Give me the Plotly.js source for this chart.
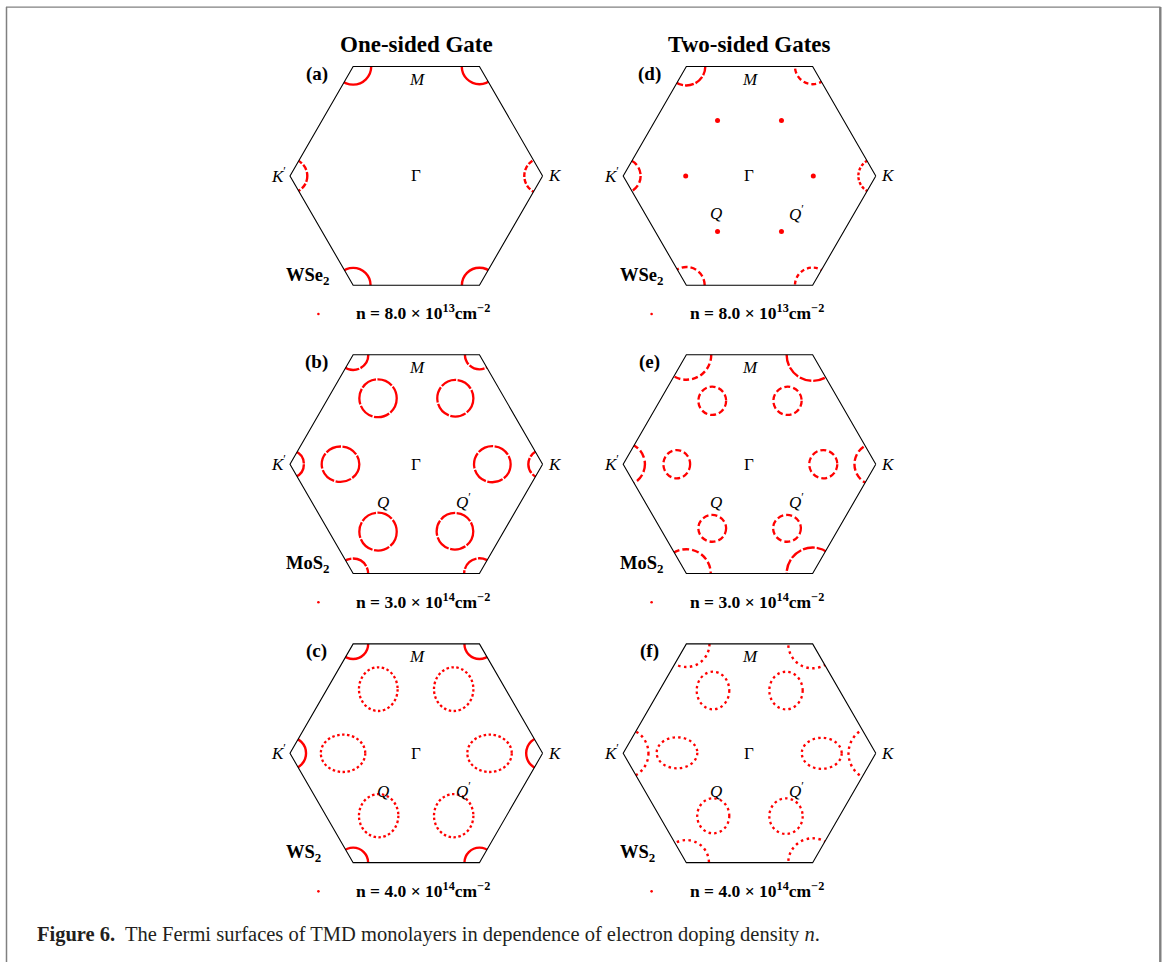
<!DOCTYPE html>
<html>
<head>
<meta charset="utf-8">
<script src="https://cdn.plot.ly/plotly-3.0.1.min.js"></script>
<style>html,body{margin:0;padding:0;background:#fff;}#chart{width:1165px;height:962px;}</style>
</head>
<body>
<div id="chart"></div>
<script>
// ---------------- DATA (Brillouin-zone units, Γ–K distance = 1) ----------------
const panelLetters = ['(a)', '(b)', '(c)', '(d)', '(e)', '(f)'];
const materials = ['WSe<sub>2</sub>', 'MoS<sub>2</sub>', 'WS<sub>2</sub>', 'WSe<sub>2</sub>', 'MoS<sub>2</sub>', 'WS<sub>2</sub>'];
const densityMantissa = ['8.0', '3.0', '4.0', '8.0', '3.0', '4.0'];
const densityExponent = ['13', '14', '14', '13', '14', '14'];
const columnTitles = ['One-sided Gate', 'Two-sided Gates'];

// hexagon corners (K, K', ...) order: K, top-right, top-left, K', bottom-left, bottom-right
const hexX = [1, 0.5, -0.5, -1, -0.5, 0.5];
const hexY = [0, 0.866, 0.866, 0, -0.866, -0.866];

// K/K' valley pocket radii at each corner, per panel
const kRadius_a = [0.145, 0.140, 0.143, 0.137, 0.138, 0.139];
const kRadius_b = [0.113, 0.115, 0.120, 0.110, 0.119, 0.121];
const kRadius_c = [0.130, 0.119, 0.119, 0.127, 0.119, 0.119];
const kRadius_d = [0.138, 0.140, 0.150, 0.138, 0.145, 0.140];
const kRadius_e = [0.169, 0.206, 0.197, 0.172, 0.193, 0.206];
const kRadius_f = [0.216, 0.193, 0.183, 0.200, 0.179, 0.193];

// Q/Q' valley pockets (centres and half-axes), order: 0°, 60°, 120°, 180°, 240°, 300°
const qCx_b = [0.602, 0.309, -0.303, -0.600, -0.303, 0.306];
const qCy_b = [0.000, 0.522, 0.522, 0.000, -0.534, -0.531];
const qRx_b = [0.145, 0.143, 0.148, 0.149, 0.148, 0.145];
const qRy_b = [0.143, 0.145, 0.150, 0.140, 0.150, 0.145];

const qCx_c = [0.580, 0.296, -0.301, -0.580, -0.298, 0.296];
const qCy_c = [0.000, 0.508, 0.508, 0.000, -0.494, -0.494];
const qRx_c = [0.176, 0.156, 0.153, 0.176, 0.156, 0.156];
const qRy_c = [0.148, 0.173, 0.173, 0.148, 0.171, 0.171];

const qCx_e = [0.584, 0.301, -0.295, -0.576, -0.295, 0.297];
const qCy_e = [0.000, 0.502, 0.502, 0.000, -0.508, -0.508];
const qRx_e = [0.111, 0.112, 0.110, 0.106, 0.110, 0.110];
const qRy_e = [0.112, 0.112, 0.112, 0.112, 0.106, 0.106];

const qCx_f = [0.572, 0.289, -0.289, -0.574, -0.287, 0.289];
const qCy_f = [0.000, 0.497, 0.497, 0.004, -0.495, -0.498];
const qRx_f = [0.158, 0.132, 0.129, 0.161, 0.127, 0.132];
const qRy_f = [0.123, 0.149, 0.149, 0.123, 0.139, 0.141];

// point-like Q pockets in panel (d)
const qDotX_d = [0.505, 0.253, -0.253, -0.505, -0.253, 0.253];
const qDotY_d = [0.000, 0.438, 0.438, 0.000, -0.441, -0.441];

// ---------------- STYLE / LAYOUT ----------------
const RED = '#ff0000';
const SERIF = '"Liberation Serif", "Times New Roman", serif';
const W = 1165, H = 962;
const RPX = 126.3;                 // pixels per BZ unit
const colCx = [416.3, 749.5];      // pixel centres of the columns
const rowCy = [175.9, 464.2, 753.3];
const XR = 1.25, YR = 1.12;        // half-ranges of the axes

const kPockets = [kRadius_a, kRadius_b, kRadius_c, kRadius_d, kRadius_e, kRadius_f];
const qPockets = [null,
  {cx: qCx_b, cy: qCy_b, rx: qRx_b, ry: qRy_b},
  {cx: qCx_c, cy: qCy_c, rx: qRx_c, ry: qRy_c},
  null,
  {cx: qCx_e, cy: qCy_e, rx: qRx_e, ry: qRy_e},
  {cx: qCx_f, cy: qCy_f, rx: qRx_f, ry: qRy_f}];
const kDash = [
  ['5px,2px', 'solid', 'solid', '6px,2px', 'solid', 'solid'],
  ['16px,1.5px', '16px,1.5px', '16px,1.5px', '16px,1.5px', '16px,1.5px', '16px,1.5px'],
  ['solid', 'solid', 'solid', 'solid', 'solid', 'solid'],
  ['3px,2px', '5px,3px', '9px,2px', '7px,3px', '6px,3px', '4px,3px'],
  ['7px,3px', '12px,2px', '6px,3px', '8px,3px', '7px,3px', '12px,2px'],
  ['2.5px,3.5px', '2.5px,3.5px', '2.5px,3.5px', '2.5px,3.5px', '2.5px,3.5px', '2.5px,3.5px']];
const qDash = [null, '16px,1.5px', '2.5px,2.5px', null, '6px,3px', '2.5px,3.2px'];

const layout = {
  width: W, height: H, autosize: false,
  margin: {l: 0, r: 0, t: 0, b: 0, pad: 0},
  paper_bgcolor: '#fff', plot_bgcolor: 'rgba(0,0,0,0)',
  showlegend: false, shapes: [], annotations: []
};
const traces = [];

// box (mask) around a hexagon with a hexagonal hole
const mX = [-1.5, 1.5, 1.5, -1.5, -1.5, hexX[3], hexX[2], hexX[1], hexX[0], hexX[5], hexX[4], hexX[3], -1.5, -1.5];
const mY = [-1.5, -1.5, 1.5, 1.5, 0, hexY[3], hexY[2], hexY[1], hexY[0], hexY[5], hexY[4], hexY[3], 0, -1.5];

for (let p = 0; p < 6; p++) {
  const col = Math.floor(p / 3), row = p % 3;
  const n = p + 1;
  const xa = n === 1 ? 'x' : 'x' + n, ya = n === 1 ? 'y' : 'y' + n;
  const xk = n === 1 ? 'xaxis' : 'xaxis' + n, yk = n === 1 ? 'yaxis' : 'yaxis' + n;
  const cx = colCx[col], cy = rowCy[row];
  layout[xk] = {domain: [(cx - XR * RPX) / W, (cx + XR * RPX) / W], range: [-XR, XR],
    visible: false, fixedrange: true, anchor: ya};
  layout[yk] = {domain: [1 - (cy + YR * RPX) / H, 1 - (cy - YR * RPX) / H], range: [-YR, YR],
    visible: false, fixedrange: true, anchor: xa};

  // K / K' pockets centred on the zone corners
  const kr = kPockets[p];
  for (let v = 0; v < 6; v++) {
    layout.shapes.push({type: 'circle', xref: xa, yref: ya, layer: 'below',
      x0: hexX[v] - kr[v], x1: hexX[v] + kr[v], y0: hexY[v] - kr[v], y1: hexY[v] + kr[v],
      line: {color: RED, width: 2.4, dash: kDash[p][v]}, fillcolor: 'rgba(0,0,0,0)'});
  }
  // Q / Q' pockets
  const q = qPockets[p];
  if (q) {
    for (let v = 0; v < q.cx.length; v++) {
      layout.shapes.push({type: 'circle', xref: xa, yref: ya, layer: 'below',
        x0: q.cx[v] - q.rx[v], x1: q.cx[v] + q.rx[v], y0: q.cy[v] - q.ry[v], y1: q.cy[v] + q.ry[v],
        line: {color: RED, width: 2.3, dash: qDash[p]}, fillcolor: 'rgba(0,0,0,0)'});
    }
  }
  // white mask outside the zone
  traces.push({type: 'scatter', mode: 'lines', x: mX, y: mY, xaxis: xa, yaxis: ya,
    fill: 'toself', fillcolor: '#ffffff', line: {width: 0, color: '#ffffff'}, hoverinfo: 'skip'});
  // zone boundary
  traces.push({type: 'scatter', mode: 'lines', x: hexX.concat([hexX[0]]), y: hexY.concat([hexY[0]]),
    xaxis: xa, yaxis: ya, line: {color: '#000', width: 1.1}, hoverinfo: 'skip'});
  // point-like Q pockets
  if (p === 3) {
    traces.push({type: 'scatter', mode: 'markers', x: qDotX_d, y: qDotY_d, xaxis: xa, yaxis: ya,
      marker: {color: RED, size: 5}, hoverinfo: 'skip'});
  }
  // legend symbol
  traces.push({type: 'scatter', mode: 'markers', x: [-0.775], y: [-1.093], xaxis: xa, yaxis: ya,
    cliponaxis: false, marker: {color: RED, size: 2.6}, hoverinfo: 'skip'});

  const ann = (text, x, y, size, opts) => Object.assign({xref: xa, yref: ya, x: x, y: y, text: text,
    showarrow: false, font: {family: SERIF, size: size, color: '#000'}, xanchor: 'center', yanchor: 'middle'}, opts || {});
  layout.annotations.push(ann('<i>M</i>', 0.005, 0.765, 17));
  layout.annotations.push(ann('Γ', 0, 0, 17));
  layout.annotations.push(ann('<i>K</i>', 1.025, 0, 17, {xanchor: 'left'}));
  layout.annotations.push(ann('<i>K</i><sup>′</sup>', -1.018, 0.01, 17, {xanchor: 'right'}));
  if (p !== 0) {
    layout.annotations.push(ann('<i>Q</i>', -0.327, -0.3, 17, {xanchor: 'left'}));
    layout.annotations.push(ann('<i>Q</i><sup>′</sup>', 0.298, -0.29, 17, {xanchor: 'left'}));
  }
  layout.annotations.push(ann('<b>' + panelLetters[p] + '</b>', -0.79, 0.81, 19));
  layout.annotations.push(ann('<b>' + materials[p] + '</b>', -1.045, -0.795, 18.5, {xanchor: 'left'}));
  layout.annotations.push(ann('<b>n = ' + densityMantissa[p] + ' × 10<sup>' + densityExponent[p] +
    '</sup>cm<sup>−2</sup></b>', -0.49, -1.08, 17.5, {xanchor: 'left'}));
}

// column titles
for (let c = 0; c < 2; c++) {
  layout.annotations.push({xref: 'paper', yref: 'paper', x: colCx[c] / W, y: 1 - 45 / H,
    text: '<b>' + columnTitles[c] + '</b>', showarrow: false, xanchor: 'center', yanchor: 'middle',
    font: {family: SERIF, size: 23, color: '#000'}});
}
// caption
layout.annotations.push({xref: 'paper', yref: 'paper', x: 35 / W, y: 1 - 934 / H,
  text: '<b>Figure 6.</b>  The Fermi surfaces of TMD monolayers in dependence of electron doping density <i>n</i>.',
  showarrow: false, xanchor: 'left', yanchor: 'middle', font: {family: SERIF, size: 20.5, color: '#231f20'}});

// frame
layout.shapes.push({type: 'line', xref: 'paper', yref: 'paper', x0: 6.5 / W, x1: 6.5 / W, y0: 0, y1: 1 - 7 / H,
  line: {color: '#808080', width: 1.5}});
layout.shapes.push({type: 'line', xref: 'paper', yref: 'paper', x0: 6 / W, x1: 1160.5 / W, y0: 1 - 7.2 / H, y1: 1 - 7.2 / H,
  line: {color: '#808080', width: 1.3}});
layout.shapes.push({type: 'line', xref: 'paper', yref: 'paper', x0: 1160.3 / W, x1: 1160.3 / W, y0: 0, y1: 1 - 7 / H,
  line: {color: '#808080', width: 2.4}});

Plotly.newPlot('chart', traces, layout, {staticPlot: true, displayModeBar: false});
</script>
</body>
</html>
